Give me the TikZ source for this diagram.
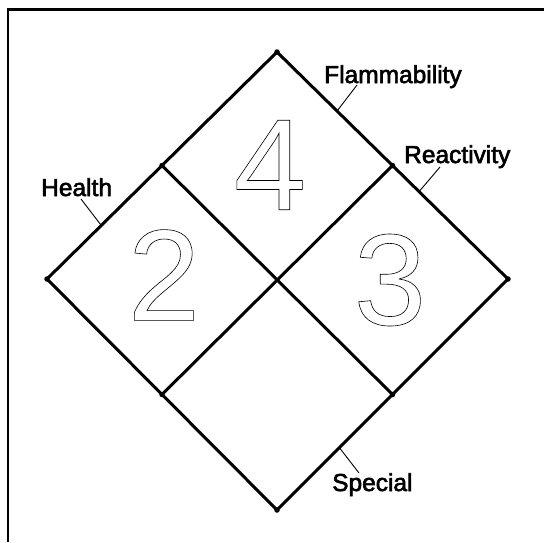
\documentclass[tikz,border=0pt]{standalone}
\usepackage{fontspec}
\setmainfont{Liberation Sans}
\usetikzlibrary{calc}
\tikzset{
  rim/.style={line width=3pt, line join=round},
  divider/.style={line width=3pt},
  leader/.style={line width=0.9pt},
  frame/.style={line width=2.2pt},
  tag/.style={inner sep=0pt, anchor=base west,
    font=\fontsize{24.5}{28}\selectfont},
  rating/.style={inner sep=0pt, font=\fontsize{130}{130}\selectfont},
  corner/.style={circle, fill, inner sep=0pt, minimum size=5.5pt}
}
% outline digits, heavier labels
\newcommand{\hollow}[1]{\special{pdf:literal direct 1 Tr 0.6 w}#1\special{pdf:literal direct 0 Tr}}
\newcommand{\heavy}[1]{\special{pdf:literal direct 2 Tr 0.6 w}#1\special{pdf:literal direct 0 Tr}}

\begin{document}
\begin{tikzpicture}[x=1pt,y=-1pt]
  \useasboundingbox (0,0) rectangle (544,542);
  \draw[frame] (8,542) |- (544,9.5);

  % diamond corners
  \coordinate (top) at (277,52);
  \coordinate (right) at (508,279);
  \coordinate (bottom) at (277,510);
  \coordinate (left) at (47,279);
  \coordinate (tl) at ($(left)!0.5!(top)$);
  \coordinate (tr) at ($(top)!0.5!(right)$);
  \coordinate (br) at ($(right)!0.5!(bottom)$);
  \coordinate (bl) at ($(bottom)!0.5!(left)$);

  \draw[rim] (top) -- (right) -- (bottom) -- (left) -- cycle;
  \draw[divider] (tl) -- (br);
  \draw[divider] (tr) -- (bl);
  \foreach \p in {top,right,bottom,left,tl,tr,br,bl}
    \node[corner] at (\p) {};

  % ratings
  \node[rating] (flamnum) at (270,165) {\hollow{4}};
  \node[rating] (healthnum) at (164,275) {\hollow{2}};
  \node[rating] (reactnum) at (390,280) {\hollow{3}};

  % labels
  \node[tag] (flam) at (324,83) {\heavy{Flammability}};
  \node[tag] (react) at (404,163) {\heavy{Reactivity}};
  \node[tag] (health) at (41,196) {\heavy{Health}};
  \node[tag] (special) at (332,491) {\heavy{Special}};

  \coordinate (flamtip) at ($(top)!0.26!(right)$);
  \coordinate (reacttip) at ($(top)!0.615!(right)$);
  \coordinate (healthtip) at ($(left)!0.236!(top)$);
  \coordinate (specialtip) at ($(bottom)!0.27!(right)$);
  \draw[leader] (flamtip) -- ($(flam.base west)+(33,2)$);
  \draw[leader] (reacttip) -- ($(react.base west)+(36,4)$);
  \draw[leader] (healthtip) -- ($(health.base west)+(40,3)$);
  \draw[leader] (specialtip) -- ($(special.base west)+(27,-18)$);
\end{tikzpicture}
\end{document}
